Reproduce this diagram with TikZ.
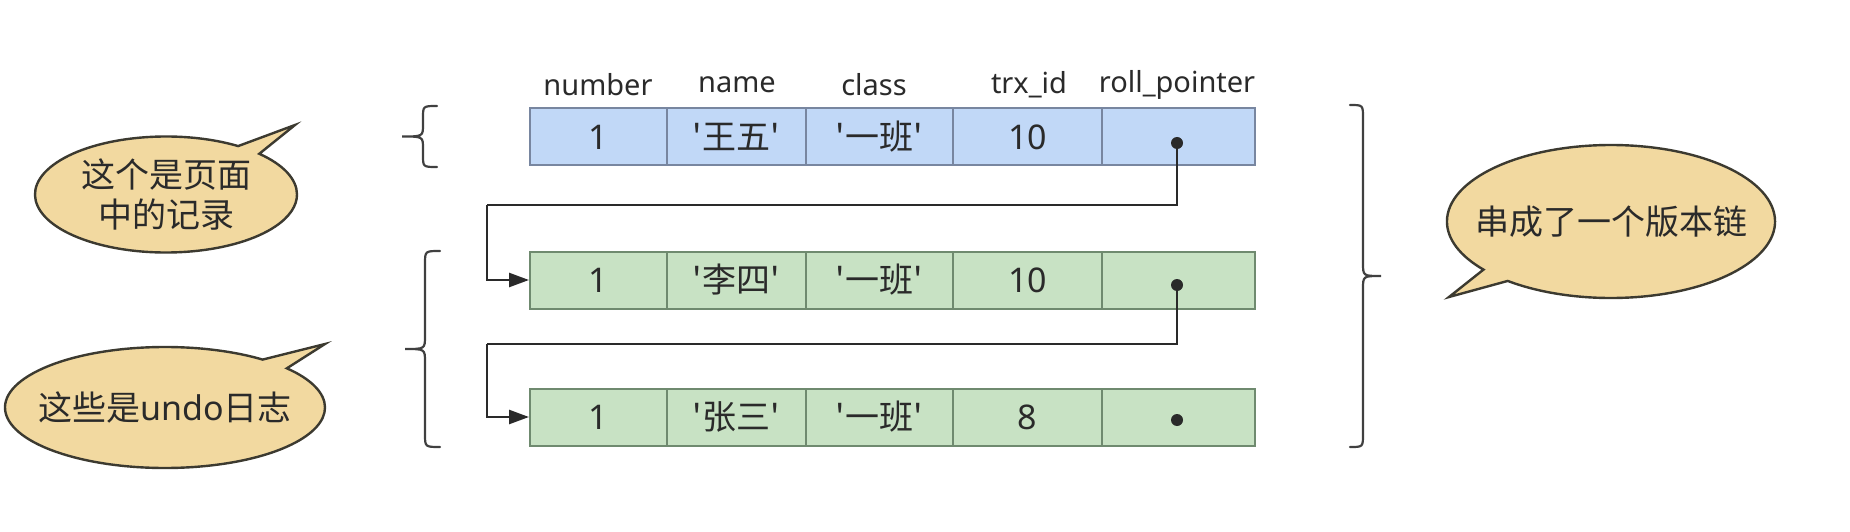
\documentclass[tikz,border=0pt]{standalone}
\usepackage{fontspec}
\newfontfamily\lat{Noto Sans}
\newfontfamily\cjk{Noto Sans CJK SC}
\usetikzlibrary{arrows.meta,shapes.callouts}
\definecolor{bluefill}{HTML}{C1D8F7}
\definecolor{bluebd}{HTML}{7886A0}
\definecolor{greenfill}{HTML}{C8E2C4}
\definecolor{greenbd}{HTML}{6F8A6F}
\definecolor{bubfill}{HTML}{F2D9A0}
\definecolor{bubbd}{HTML}{3C3A30}
\definecolor{txt}{HTML}{2A2A2A}
\definecolor{brcol}{HTML}{404040}
\begin{document}
\begin{tikzpicture}[x=1pt,y=-1pt,
  cellbase/.style={line width=2pt, minimum height=57pt, inner sep=0pt, text=txt,
    font=\lat\fontsize{34}{40}\selectfont},
  cellb/.style={cellbase, draw=bluebd, fill=bluefill},
  cellg/.style={cellbase, draw=greenbd, fill=greenfill},
  hdr/.style={font=\lat\fontsize{29}{34}\selectfont, text=txt, inner sep=0pt},
  dotn/.style={circle, fill=txt, inner sep=0pt, minimum size=12pt},
  conn/.style={draw=txt, line width=2.6pt},
  brc/.style={draw=brcol, line width=2.2pt, line cap=round},
  bubble/.style={ellipse callout, draw=bubbd, fill=bubfill, line width=2.4pt,
    inner sep=0pt, align=center, text=txt, callout pointer arc=12,
    font=\cjk\fontsize{34}{40}\selectfont}
]
\fill[white] (0,0) rectangle (1850,532);
\useasboundingbox (0,0) rectangle (1850,532);

% headers
\node[hdr] (h1) at (598,85) {number};
\node[hdr] (h2) at (737,85) {name};
\node[hdr] (h3) at (874,85) {class};
\node[hdr] (h4) at (1029,85) {trx\_id};
\node[hdr] (h5) at (1177,85) {roll\_pointer};

% row 1
\node[cellb, minimum width=136.5pt] (r1c1) at (598.25,137) {1};
\node[cellb, minimum width=139pt]   (r1c2) at (736,137) {\cjk '王五'};
\node[cellb, minimum width=147.5pt] (r1c3) at (879.25,137) {\cjk '一班'};
\node[cellb, minimum width=149pt]   (r1c4) at (1027.5,137) {10};
\node[cellb, minimum width=153pt]   (r1c5) at (1178.5,137) {};
% row 2
\node[cellg, minimum width=136.5pt] (r2c1) at (598.25,280) {1};
\node[cellg, minimum width=139pt]   (r2c2) at (736,280) {\cjk '李四'};
\node[cellg, minimum width=147.5pt] (r2c3) at (879.25,280) {\cjk '一班'};
\node[cellg, minimum width=149pt]   (r2c4) at (1027.5,280) {10};
\node[cellg, minimum width=153pt]   (r2c5) at (1178.5,280) {};
% row 3
\node[cellg, minimum width=136.5pt] (r3c1) at (598.25,417) {1};
\node[cellg, minimum width=139pt]   (r3c2) at (736,417) {\cjk '张三'};
\node[cellg, minimum width=147.5pt] (r3c3) at (879.25,417) {\cjk '一班'};
\node[cellg, minimum width=149pt]   (r3c4) at (1027.5,417) {8};
\node[cellg, minimum width=153pt]   (r3c5) at (1178.5,417) {};

% pointer dots
\node[dotn] (d1) at (1177,143) {};
\node[dotn] (d2) at (1177,285) {};
\node[dotn] (d3) at (1177,420) {};

% connectors
\coordinate (k1) at (487,205);
\coordinate (k2) at (487,344);
\draw[conn] (d1.center) |- (k1);
\draw[conn, -{Triangle[length=20pt,width=14pt]}] (k1) |- (r2c1.west);
\draw[conn] (d2.center) |- (k2);
\draw[conn, -{Triangle[length=20pt,width=14pt]}] (k2) |- (r3c1.west);

% braces
\draw[brc] (437,106) .. controls (423,106) .. (423,118) -- (423,124.5)
  .. controls (423,136.5) .. (402,136.5) .. controls (423,136.5) .. (423,148.5)
  -- (423,155) .. controls (423,167) .. (437,167);
\draw[brc] (440,251) .. controls (425,251) .. (425,264) -- (425,336)
  .. controls (425,349) .. (405,349) .. controls (425,349) .. (425,362)
  -- (425,434) .. controls (425,447) .. (440,447);
\draw[brc] (1350,105) .. controls (1363,105) .. (1363,118) -- (1363,263)
  .. controls (1363,276) .. (1381,276) .. controls (1363,276) .. (1363,289)
  -- (1363,434) .. controls (1363,447) .. (1350,447);

% callouts
\node[bubble, minimum width=262pt, minimum height=116pt,
  callout absolute pointer={(295,125)}] (b1) at (166,194.5) {这个是页面\\中的记录};
\node[bubble, inner xsep=-30pt, minimum width=320pt, minimum height=121pt,
  callout absolute pointer={(325,344)}] (b2) at (165,407.5) {这些是{\lat undo}日志};
\node[bubble, inner xsep=-20pt, minimum width=326pt, minimum height=153pt,
  callout absolute pointer={(1449,297)}] (b3) at (1611,221.5) {串成了一个版本链};
\end{tikzpicture}
\end{document}
